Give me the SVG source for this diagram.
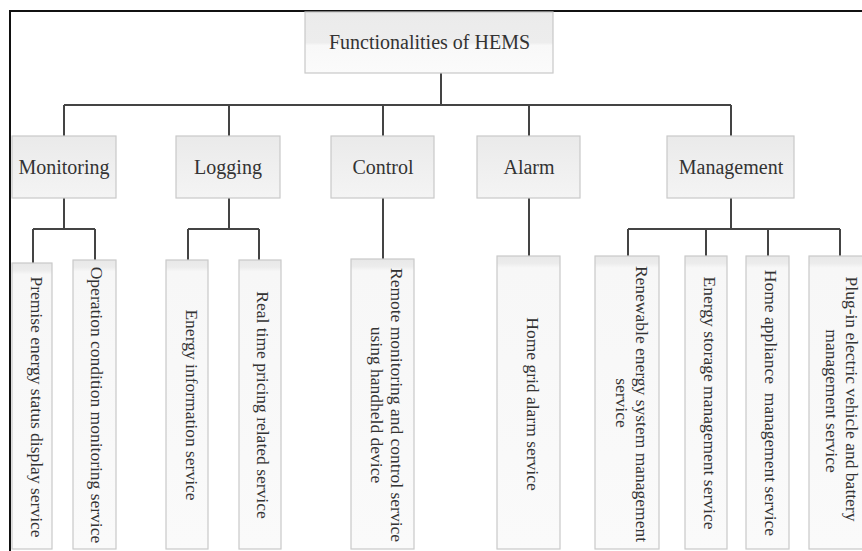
<svg xmlns="http://www.w3.org/2000/svg" width="862" height="551" viewBox="0 0 862 551">
  <style>
    .box { stroke: #c9c9c9; stroke-width: 1.2; }
    .head { fill: url(#gHead); }
    .cat { fill: url(#gCat); }
    .leaf { fill: url(#gLeaf); }
    .t { font-family: "Liberation Serif", "Times New Roman", serif; fill: #333; }
    .big { font-size: 20px; text-anchor: middle; }
    .small { font-size: 17.5px; text-anchor: middle; }
    .wire { fill: none; stroke: #444; stroke-width: 2; }
    .frame { fill: none; stroke: #111; stroke-width: 2; }
  </style>
  <defs>
    <linearGradient id="gHead" x1="0" y1="0" x2="0" y2="1">
      <stop offset="0" stop-color="#ebebeb"/>
      <stop offset="0.5" stop-color="#ededed"/>
      <stop offset="0.55" stop-color="#f8f8f8"/>
      <stop offset="1" stop-color="#fbfbfb"/>
    </linearGradient>
    <linearGradient id="gCat" x1="0" y1="0" x2="0" y2="1">
      <stop offset="0" stop-color="#eaeaea"/>
      <stop offset="1" stop-color="#f4f4f4"/>
    </linearGradient>
    <linearGradient id="gLeaf" x1="0" y1="0" x2="0" y2="1">
      <stop offset="0" stop-color="#e8e8e8"/>
      <stop offset="0.025" stop-color="#ececec"/>
      <stop offset="0.04" stop-color="#f7f7f7"/>
      <stop offset="1" stop-color="#fafafa"/>
    </linearGradient>
  </defs>

  <rect width="862" height="551" fill="#ffffff"/>

  <!-- outer frame (left and top edges) -->
  <path class="frame" d="M10 551 V11 H862"/>

  <!-- connectors -->
  <g id="connectors">
    <path class="wire" d="M441 73 V105 M64 105 H731 M64 105 V136 M229 105 V136 M383 105 V136 M529 105 V136 M731 105 V136"/>
    <path class="wire" d="M64 198 V229 M33 229 H95 M33 229 V263 M95 229 V260"/>
    <path class="wire" d="M229 198 V229 M188 229 H259 M188 229 V260 M259 229 V260"/>
    <path class="wire" d="M383 198 V259"/>
    <path class="wire" d="M529 198 V256"/>
    <path class="wire" d="M731 198 V229 M628 229 H840 M628 229 V256 M706 229 V256 M768 229 V256 M840 229 V256"/>
  </g>

  <!-- root -->
  <g id="root">
    <rect class="box head" x="305" y="12" width="248" height="61"/>
    <text class="t big" x="429.5" y="49">Functionalities of HEMS</text>
  </g>

  <!-- categories -->
  <g id="monitoring">
    <rect class="box cat" x="12" y="136" width="104" height="62"/>
    <text class="t big" x="64" y="174">Monitoring</text>
  </g>
  <g id="logging">
    <rect class="box cat" x="176" y="136" width="104" height="62"/>
    <text class="t big" x="228" y="174">Logging</text>
  </g>
  <g id="control">
    <rect class="box cat" x="331" y="136" width="103" height="62"/>
    <text class="t big" x="383" y="174">Control</text>
  </g>
  <g id="alarm">
    <rect class="box cat" x="477" y="136" width="103" height="62"/>
    <text class="t big" x="529" y="174">Alarm</text>
  </g>
  <g id="management">
    <rect class="box cat" x="667" y="136" width="127" height="62"/>
    <text class="t big" x="731" y="174">Management</text>
  </g>

  <!-- services (vertical text, read top to bottom) -->
  <g id="premise-energy-status">
    <rect class="box leaf" x="12" y="263" width="40" height="286"/>
    <text class="t small" transform="translate(31 407) rotate(90)">Premise energy status display service</text>
  </g>
  <g id="operation-condition">
    <rect class="box leaf" x="73" y="260" width="43" height="289"/>
    <text class="t small" transform="translate(91 405) rotate(90)">Operation condition monitoring service</text>
  </g>
  <g id="energy-information">
    <rect class="box leaf" x="166" y="260" width="42" height="289"/>
    <text class="t small" transform="translate(186 405) rotate(90)">Energy information service</text>
  </g>
  <g id="real-time-pricing">
    <rect class="box leaf" x="239" y="260" width="42" height="289"/>
    <text class="t small" transform="translate(256.5 405) rotate(90)">Real time pricing related service</text>
  </g>
  <g id="remote-monitoring">
    <rect class="box leaf" x="351" y="259" width="63" height="290"/>
    <text class="t small" transform="translate(391 405) rotate(90)">Remote monitoring and control service</text>
    <text class="t small" transform="translate(371 405) rotate(90)">using handheld device</text>
  </g>
  <g id="home-grid-alarm">
    <rect class="box leaf" x="497" y="256" width="63" height="293"/>
    <text class="t small" transform="translate(526.5 404) rotate(90)">Home grid alarm service</text>
  </g>
  <g id="renewable-energy">
    <rect class="box leaf" x="595" y="256" width="64" height="293"/>
    <text class="t small" transform="translate(636 404) rotate(90)">Renewable energy system management</text>
    <text class="t small" transform="translate(615.5 403) rotate(90)">service</text>
  </g>
  <g id="energy-storage">
    <rect class="box leaf" x="685" y="256" width="42" height="293"/>
    <text class="t small" transform="translate(703.5 403) rotate(90)">Energy storage management service</text>
  </g>
  <g id="home-appliance">
    <rect class="box leaf" x="746" y="256" width="43" height="293"/>
    <text class="t small" transform="translate(765 403) rotate(90)" xml:space="preserve">Home appliance  management service</text>
  </g>
  <g id="plug-in-ev">
    <rect class="box leaf" x="809" y="256" width="60" height="293"/>
    <text class="t small" transform="translate(846 399) rotate(90)">Plug-in electric vehicle and battery</text>
    <text class="t small" transform="translate(825.5 401) rotate(90)">management service</text>
  </g>
</svg>
